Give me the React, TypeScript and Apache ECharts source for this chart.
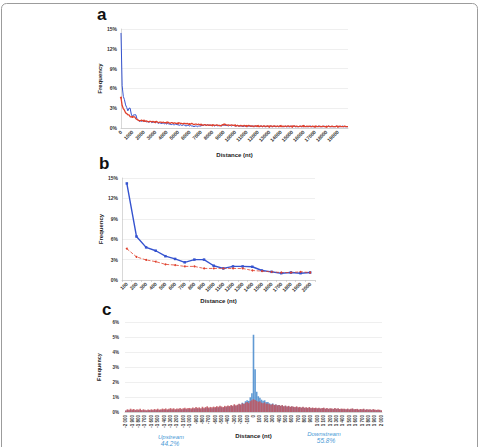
import React, { useEffect, useRef } from "react";
import * as echarts from "echarts";

// Panel a: frequency (%) by distance, 100-nt bins from 0 to 19 900
const aBlueNear = [14.4, 6.4, 4.8, 4.3, 3.5, 3.1, 2.6, 3.0, 3.0, 2.1, 1.7, 2.0, 2.0, 2.0, 1.4, 1.2, 1.0, 1.1, 1.0, 1.1];
const aRedNear = [4.6, 3.4, 2.95, 2.7, 2.3, 2.2, 2.0, 2.0, 1.7, 1.7, 1.7, 1.7, 1.7, 1.4, 1.3, 1.2, 1.1, 1.1, 1.2, 1.1];
const aBlueFar = [
  1.0, 1.1, 0.9, 1.0, 0.9, 0.9, 1.0, 0.8, 0.9, 0.9,
  0.8, 0.9, 0.8, 0.7, 0.8, 0.7, 0.7, 0.8, 0.6, 0.7,
  0.6, 0.7, 0.6, 0.6, 0.5, 0.6, 0.5, 0.5, 0.6, 0.5,
  0.5, 0.4, 0.5, 0.4, 0.4, 0.5, 0.4, 0.3, 0.4, 0.4,
  0.3, 0.4, 0.3, 0.3, 0.2, 0.3, 0.3, 0.2, 0.3, 0.3,
  0.3, 0.4, 0.4, 0.5, 0.4, 0.4, 0.5, 0.4, 0.4, 0.4,
  0.4, 0.4, 0.3, 0.4, 0.4, 0.3, 0.4, 0.4, 0.3, 0.4,
  0.5, 0.4, 0.4, 0.4, 0.3, 0.4, 0.4, 0.3, 0.4, 0.4,
  0.3, 0.3, 0.4, 0.3, 0.3, 0.3, 0.3, 0.2, 0.3, 0.3,
  0.3, 0.2, 0.3, 0.3, 0.2, 0.3, 0.3, 0.2, 0.3, 0.2,
  0.3, 0.2, 0.2, 0.3, 0.2, 0.3, 0.2, 0.2, 0.3, 0.2,
  0.2, 0.3, 0.2, 0.2, 0.3, 0.2, 0.2, 0.3, 0.2, 0.2,
  0.3, 0.2, 0.2, 0.2, 0.3, 0.2, 0.2, 0.2, 0.2, 0.3,
  0.2, 0.2, 0.3, 0.2, 0.2, 0.2, 0.2, 0.3, 0.2, 0.2,
  0.2, 0.3, 0.2, 0.2, 0.2, 0.2, 0.3, 0.2, 0.2, 0.2,
  0.2, 0.2, 0.2, 0.3, 0.2, 0.2, 0.2, 0.2, 0.3, 0.2,
  0.2, 0.2, 0.3, 0.2, 0.2, 0.2, 0.2, 0.2, 0.2, 0.3,
  0.2, 0.2, 0.2, 0.2, 0.3, 0.2, 0.2, 0.2, 0.2, 0.2,
];
const aRedFar = [
  1.1, 1.0, 1.1, 1.0, 0.9, 1.0, 1.0, 0.9, 1.0, 0.9,
  0.9, 1.0, 0.9, 0.8, 0.9, 0.9, 0.8, 0.9, 0.8, 0.8,
  0.8, 0.9, 0.8, 0.7, 0.8, 0.8, 0.7, 0.8, 0.7, 0.7,
  0.7, 0.8, 0.7, 0.7, 0.6, 0.7, 0.7, 0.6, 0.7, 0.6,
  0.6, 0.6, 0.7, 0.6, 0.5, 0.6, 0.6, 0.5, 0.6, 0.5,
  0.5, 0.5, 0.4, 0.5, 0.5, 0.4, 0.5, 0.4, 0.5, 0.4,
  0.4, 0.5, 0.4, 0.4, 0.5, 0.4, 0.4, 0.3, 0.4, 0.5,
  0.5, 0.6, 0.5, 0.4, 0.5, 0.4, 0.4, 0.5, 0.4, 0.4,
  0.4, 0.3, 0.4, 0.3, 0.3, 0.4, 0.3, 0.3, 0.4, 0.3,
  0.3, 0.3, 0.4, 0.3, 0.3, 0.3, 0.2, 0.3, 0.3, 0.3,
  0.3, 0.2, 0.3, 0.3, 0.2, 0.3, 0.3, 0.2, 0.3, 0.3,
  0.2, 0.3, 0.3, 0.2, 0.3, 0.3, 0.2, 0.3, 0.2, 0.3,
  0.3, 0.2, 0.3, 0.2, 0.3, 0.2, 0.3, 0.3, 0.2, 0.3,
  0.2, 0.3, 0.3, 0.2, 0.3, 0.2, 0.2, 0.3, 0.2, 0.3,
  0.3, 0.2, 0.2, 0.3, 0.2, 0.3, 0.2, 0.2, 0.3, 0.2,
  0.2, 0.3, 0.2, 0.2, 0.3, 0.2, 0.2, 0.3, 0.2, 0.2,
  0.2, 0.2, 0.3, 0.2, 0.2, 0.3, 0.2, 0.2, 0.2, 0.3,
  0.2, 0.2, 0.3, 0.2, 0.2, 0.2, 0.3, 0.2, 0.2, 0.2,
];

// Panel b: 100-nt bins from 100 to 2 000
const bDist = ["100", "200", "300", "400", "500", "600", "700", "800", "900", "1000", "1100", "1200", "1300", "1400", "1500", "1600", "1700", "1800", "1900", "2000"];
const bBlue = [14.2, 6.4, 4.8, 4.3, 3.5, 3.1, 2.6, 3.0, 3.0, 2.1, 1.7, 2.0, 2.0, 1.95, 1.4, 1.2, 1.0, 1.1, 1.0, 1.1];
const bRed = [4.6, 3.4, 2.95, 2.7, 2.3, 2.2, 2.0, 2.0, 1.7, 1.7, 1.7, 1.7, 1.7, 1.4, 1.3, 1.2, 1.1, 1.1, 1.2, 1.1];

// Panel c: 25-nt bins from -2 000 to 2 000 (index 80 is 0)
const cRedUp = [
  0.10, 0.18, 0.15, 0.22, 0.17, 0.20, 0.14, 0.19,
  0.16, 0.21, 0.13, 0.18, 0.15, 0.12, 0.17, 0.14,
  0.18, 0.15, 0.20, 0.17, 0.22, 0.16, 0.19, 0.23,
  0.20, 0.24, 0.18, 0.22, 0.26, 0.21, 0.25, 0.19,
  0.24, 0.22, 0.27, 0.21, 0.25, 0.28, 0.23, 0.26,
  0.27, 0.24, 0.30, 0.26, 0.33, 0.28, 0.31, 0.25,
  0.35, 0.29, 0.33, 0.38, 0.30, 0.34, 0.31, 0.36,
  0.33, 0.39, 0.35, 0.42, 0.37, 0.34, 0.41, 0.38,
  0.44, 0.40, 0.47, 0.42, 0.52, 0.45, 0.49, 0.55,
  0.50, 0.58, 0.53, 0.62, 0.66, 0.59, 0.72, 0.78,
];
const cRedDown = [
  0.85,
  0.80, 0.74, 0.68, 0.71, 0.62, 0.58, 0.64, 0.55,
  0.57, 0.52, 0.49, 0.54, 0.46, 0.50, 0.44, 0.47,
  0.42, 0.46, 0.39, 0.43, 0.37, 0.41, 0.35, 0.38,
  0.36, 0.33, 0.38, 0.31, 0.34, 0.30, 0.35, 0.29,
  0.32, 0.28, 0.33, 0.26, 0.30, 0.27, 0.29, 0.25,
  0.28, 0.24, 0.27, 0.29, 0.23, 0.26, 0.22, 0.25,
  0.24, 0.21, 0.26, 0.22, 0.25, 0.20, 0.23, 0.21,
  0.22, 0.19, 0.23, 0.18, 0.21, 0.24, 0.19, 0.20,
  0.21, 0.17, 0.20, 0.18, 0.22, 0.16, 0.19, 0.17,
  0.18, 0.15, 0.19, 0.16, 0.14, 0.17, 0.15, 0.12,
];
const cBlueUp = [
  0.08, 0.12, 0.10, 0.14, 0.11, 0.13, 0.09, 0.12,
  0.10, 0.13, 0.09, 0.12, 0.10, 0.08, 0.11, 0.10,
  0.12, 0.10, 0.13, 0.11, 0.15, 0.11, 0.13, 0.15,
  0.14, 0.16, 0.12, 0.15, 0.18, 0.14, 0.17, 0.13,
  0.17, 0.15, 0.19, 0.14, 0.18, 0.20, 0.16, 0.18,
  0.20, 0.17, 0.23, 0.19, 0.25, 0.21, 0.24, 0.18,
  0.27, 0.22, 0.26, 0.30, 0.23, 0.27, 0.24, 0.29,
  0.27, 0.32, 0.28, 0.35, 0.30, 0.28, 0.34, 0.32,
  0.38, 0.34, 0.42, 0.37, 0.46, 0.40, 0.45, 0.52,
  0.49, 0.62, 0.56, 0.72, 0.78, 0.74, 0.98, 1.25,
];
const cBlueDown = [
  5.15,
  2.85, 1.35, 1.05, 0.95, 0.82, 0.75, 0.78, 0.66,
  0.66, 0.58, 0.52, 0.57, 0.48, 0.50, 0.44, 0.47,
  0.40, 0.44, 0.37, 0.41, 0.35, 0.39, 0.33, 0.36,
  0.33, 0.30, 0.34, 0.28, 0.31, 0.27, 0.31, 0.26,
  0.29, 0.25, 0.29, 0.23, 0.27, 0.24, 0.26, 0.22,
  0.25, 0.21, 0.24, 0.26, 0.20, 0.23, 0.19, 0.22,
  0.21, 0.18, 0.23, 0.19, 0.22, 0.17, 0.20, 0.18,
  0.19, 0.16, 0.20, 0.15, 0.18, 0.21, 0.16, 0.17,
  0.18, 0.14, 0.17, 0.15, 0.19, 0.13, 0.16, 0.14,
  0.15, 0.12, 0.16, 0.13, 0.11, 0.14, 0.12, 0.09,
];

const upstreamShare = "44.2%";
const downstreamShare = "55.8%";

const FONT = "Liberation Sans";
const BLUE = "#3553cf";
const RED = "#e0402c";

const aBlue = [...aBlueNear, ...aBlueFar];
const aRed = [...aRedNear, ...aRedFar];
const aDist = aBlue.map((_, i) => String(i * 100));
const cBlue = [...cBlueUp, ...cBlueDown];
const cRed = [...cRedUp, ...cRedDown];
const cDist = cBlue.map((_, i) => -2000 + i * 25);

const fmtSpaced = (v: number) => {
  const a = Math.abs(v);
  const s = a >= 1000 ? Math.floor(a / 1000) + " " + String(a % 1000).padStart(3, "0") : String(a);
  return (v < 0 ? "-" : "") + s;
};

const tickLabel = { fontFamily: FONT, fontSize: 5, color: "#333", fontWeight: "bold" as const };
const nameStyle = { fontFamily: FONT, fontSize: 6, color: "#222", fontWeight: "bold" as const };
const gridLine = { show: true, lineStyle: { color: "#e4e4e4", width: 0.6 } };
const axisLine = { show: true, lineStyle: { color: "#bdbdbd", width: 0.6 } };

export default function App() {
  const ref = useRef<HTMLDivElement>(null);

  useEffect(() => {
    if (!ref.current) return;
    const chart = echarts.init(ref.current, undefined, { renderer: "svg" });
    chart.setOption({
      animation: false,
      backgroundColor: "#ffffff",
      grid: [
        { left: 121, top: 29, width: 227, height: 99 },
        { left: 122, top: 178, width: 193, height: 102 },
        { left: 125, top: 322, width: 257, height: 90 },
      ],
      xAxis: [
        {
          gridIndex: 0, type: "category", data: aDist, boundaryGap: false,
          axisLine, axisTick: { show: false },
          axisLabel: { ...tickLabel, rotate: 45, interval: 9, margin: 3 },
          name: "Distance (nt)", nameLocation: "middle", nameGap: 24, nameTextStyle: nameStyle,
        },
        {
          gridIndex: 1, type: "category", data: bDist, boundaryGap: true,
          axisLine, axisTick: { show: true, length: 2, lineStyle: { color: "#bdbdbd", width: 0.6 } },
          axisLabel: { ...tickLabel, rotate: 45, interval: 0, margin: 3 },
          name: "Distance (nt)", nameLocation: "middle", nameGap: 18, nameTextStyle: nameStyle,
        },
        {
          gridIndex: 2, type: "category", data: cDist, boundaryGap: true,
          axisLine, axisTick: { show: false },
          axisLabel: { ...tickLabel, fontSize: 4.5, rotate: 90, interval: 3, margin: 3, formatter: (v: string) => fmtSpaced(Number(v)) },
          name: "Distance (nt)", nameLocation: "middle", nameGap: 21, nameTextStyle: nameStyle,
        },
      ],
      yAxis: [
        {
          gridIndex: 0, type: "value", min: 0, max: 15, interval: 3,
          axisLine, splitLine: gridLine,
          axisLabel: { ...tickLabel, formatter: "{value}%", margin: 4 },
          name: "Frequency", nameLocation: "middle", nameGap: 15, nameRotate: 90, nameTextStyle: nameStyle,
        },
        {
          gridIndex: 1, type: "value", min: 0, max: 15, interval: 3,
          axisLine, splitLine: gridLine,
          axisLabel: { ...tickLabel, formatter: "{value}%", margin: 4 },
          name: "Frequency", nameLocation: "middle", nameGap: 16, nameRotate: 90, nameTextStyle: nameStyle,
        },
        {
          gridIndex: 2, type: "value", min: 0, max: 6, interval: 1,
          axisLine: { show: false }, splitLine: gridLine,
          axisLabel: { ...tickLabel, fontSize: 4.5, formatter: "{value}%", margin: 6 },
          name: "Frequency", nameLocation: "middle", nameGap: 20, nameRotate: 90, nameTextStyle: { ...nameStyle, fontSize: 5.5 },
        },
      ],
      series: [
        {
          type: "line", xAxisIndex: 0, yAxisIndex: 0, data: aBlue,
          showSymbol: false, lineStyle: { color: BLUE, width: 1 }, itemStyle: { color: BLUE },
        },
        {
          type: "line", xAxisIndex: 0, yAxisIndex: 0, data: aRed,
          symbol: "circle", symbolSize: 2, showSymbol: true,
          lineStyle: { color: RED, width: 1.3 }, itemStyle: { color: RED },
        },
        {
          type: "line", xAxisIndex: 1, yAxisIndex: 1, data: bBlue,
          symbol: "rect", symbolSize: 2.5,
          lineStyle: { color: BLUE, width: 1.4 }, itemStyle: { color: BLUE },
        },
        {
          type: "line", xAxisIndex: 1, yAxisIndex: 1, data: bRed,
          symbol: "circle", symbolSize: 2,
          lineStyle: { color: RED, width: 0.8, type: "dashed" }, itemStyle: { color: RED },
        },
        {
          type: "bar", xAxisIndex: 2, yAxisIndex: 2, data: cBlue,
          barGap: "-100%", barCategoryGap: "0%",
          itemStyle: { color: "#4f8fcf", opacity: 0.9 },
        },
        {
          type: "bar", xAxisIndex: 2, yAxisIndex: 2, data: cRed,
          barGap: "-100%", barCategoryGap: "0%",
          itemStyle: { color: "#c4545c", opacity: 0.85 },
        },
      ],
      graphic: [
        {
          type: "rect", shape: { x: 1.5, y: 3.5, width: 476, height: 470, r: 5 },
          style: { fill: "none", stroke: "#9c9c9c", lineWidth: 1 }, silent: true,
        },
        { type: "text", x: 97, y: 6, style: { text: "a", font: `bold 17px "${FONT}"`, fill: "#111" } },
        { type: "text", x: 99, y: 155, style: { text: "b", font: `bold 17px "${FONT}"`, fill: "#111" } },
        { type: "text", x: 102, y: 301, style: { text: "c", font: `bold 17px "${FONT}"`, fill: "#111" } },
        {
          type: "text", x: 171, y: 437,
          style: { text: "Upstream", font: `italic 6px "${FONT}"`, fill: "#4a9ad6", textAlign: "center", textVerticalAlign: "middle" },
        },
        {
          type: "text", x: 170, y: 443,
          style: { text: upstreamShare, font: `italic 6.5px "${FONT}"`, fill: "#4a9ad6", textAlign: "center", textVerticalAlign: "middle" },
        },
        {
          type: "text", x: 324, y: 434,
          style: { text: "Downstream", font: `italic 6px "${FONT}"`, fill: "#4a9ad6", textAlign: "center", textVerticalAlign: "middle" },
        },
        {
          type: "text", x: 326, y: 440,
          style: { text: downstreamShare, font: `italic 6.5px "${FONT}"`, fill: "#4a9ad6", textAlign: "center", textVerticalAlign: "middle" },
        },
      ],
    });
    return () => chart.dispose();
  }, []);

  return <div ref={ref} style={{ position: "fixed", left: 0, top: 0, width: 480, height: 447 }} />;
}
